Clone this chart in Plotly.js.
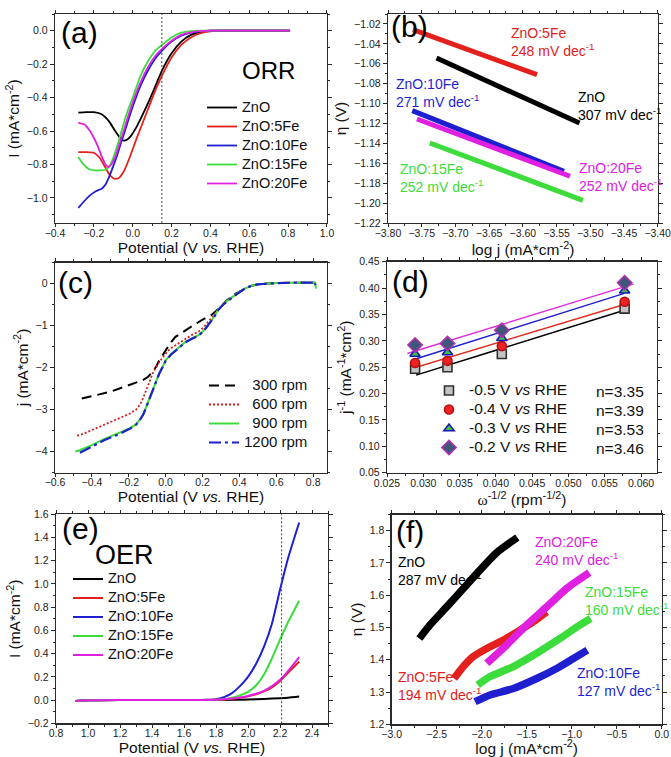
<!DOCTYPE html>
<html><head><meta charset="utf-8">
<script src="https://cdn.plot.ly/plotly-3.0.1.min.js"></script>
<style>html,body{margin:0;padding:0;background:#fff;}#chart{width:671px;height:757px;}</style>
</head><body><div id="chart"></div>
<script>
// ---------- shared ----------
const seriesNames = ['ZnO', 'ZnO:5Fe', 'ZnO:10Fe', 'ZnO:15Fe', 'ZnO:20Fe'];
const seriesColors = ['#000000', '#e3201b', '#1f1fcf', '#3cdc3c', '#e020e0'];

// ---------- (a) ORR LSV ----------
const orrV_ZnO  = [-0.28,-0.24,-0.20,-0.16,-0.12,-0.09,-0.06,-0.045,-0.03,-0.01,0.02,0.05,0.08,0.11,0.15,0.2,0.25,0.3,0.35,0.4,0.5,0.6,0.7,0.81];
const orrI_ZnO  = [-0.49,-0.487,-0.487,-0.50,-0.545,-0.60,-0.648,-0.657,-0.652,-0.63,-0.575,-0.505,-0.43,-0.35,-0.24,-0.135,-0.065,-0.025,-0.007,0,0,0,0,0];
const orrV_5Fe  = [-0.28,-0.24,-0.20,-0.17,-0.14,-0.12,-0.10,-0.085,-0.07,-0.05,-0.03,-0.01,0.02,0.05,0.08,0.11,0.15,0.2,0.25,0.3,0.35,0.4,0.45,0.5,0.6,0.7,0.81];
const orrI_5Fe  = [-0.726,-0.726,-0.73,-0.76,-0.82,-0.86,-0.882,-0.886,-0.88,-0.85,-0.80,-0.74,-0.645,-0.555,-0.465,-0.375,-0.27,-0.16,-0.085,-0.04,-0.015,-0.004,0,0,0,0,0];
const orrV_10Fe = [-0.28,-0.25,-0.22,-0.19,-0.16,-0.14,-0.12,-0.10,-0.08,-0.06,-0.04,-0.02,0.0,0.04,0.08,0.12,0.15,0.2,0.25,0.3,0.35,0.4,0.5,0.6,0.7,0.81];
const orrI_10Fe = [-1.06,-1.02,-0.985,-0.96,-0.945,-0.92,-0.87,-0.81,-0.745,-0.67,-0.60,-0.525,-0.455,-0.33,-0.235,-0.16,-0.12,-0.065,-0.03,-0.012,-0.004,0,0,0,0,0];
const orrV_15Fe = [-0.28,-0.26,-0.24,-0.22,-0.19,-0.16,-0.14,-0.12,-0.10,-0.08,-0.06,-0.04,-0.02,0.0,0.04,0.08,0.12,0.15,0.2,0.25,0.3,0.35,0.4,0.5,0.6,0.7,0.81];
const orrI_15Fe = [-0.755,-0.79,-0.815,-0.83,-0.835,-0.835,-0.83,-0.81,-0.76,-0.69,-0.61,-0.53,-0.46,-0.40,-0.27,-0.18,-0.115,-0.085,-0.04,-0.012,-0.003,0,0,0,0,0,0];
const orrV_20Fe = [-0.28,-0.25,-0.22,-0.20,-0.18,-0.16,-0.14,-0.125,-0.11,-0.09,-0.06,-0.04,-0.02,0.0,0.04,0.08,0.12,0.15,0.2,0.25,0.3,0.35,0.4,0.5,0.6,0.7,0.81];
const orrI_20Fe = [-0.551,-0.56,-0.60,-0.64,-0.69,-0.75,-0.80,-0.815,-0.80,-0.755,-0.65,-0.575,-0.50,-0.43,-0.31,-0.215,-0.145,-0.11,-0.06,-0.025,-0.01,-0.003,0,0,0,0,0];
const orrRefPotential = [0.15];

// ---------- (b) ORR Tafel ----------
const tafelOrrX_ZnO  = [-3.728, -3.516]; const tafelOrrY_ZnO  = [-1.0542, -1.1195];
const tafelOrrX_5Fe  = [-3.763, -3.579]; const tafelOrrY_5Fe  = [-1.0257, -1.0709];
const tafelOrrX_10Fe = [-3.764, -3.539]; const tafelOrrY_10Fe = [-1.1071, -1.1680];
const tafelOrrX_15Fe = [-3.738, -3.511]; const tafelOrrY_15Fe = [-1.1396, -1.1972];
const tafelOrrX_20Fe = [-3.757, -3.530]; const tafelOrrY_20Fe = [-1.1155, -1.1730];
const tafelOrrSlopes = ['307', '248', '271', '252', '252'];
const tafelOrrLabelX = [-3.521, -3.620, -3.791, -3.785, -3.520];
const tafelOrrLabelY = [-1.083, -1.019, -1.070, -1.156, -1.155];

// ---------- (c) RDE ----------
const rpmNames = ['300 rpm', '600 rpm', '900 rpm', '1200 rpm'];
const rdeV_300 = [-0.455,-0.435,-0.37,-0.302,-0.25,-0.195,-0.16,-0.124,-0.095,-0.07,-0.05,-0.035,-0.015,0.0,0.025,0.053,0.09,0.124,0.16,0.196,0.225,0.249,0.275,0.302,0.33,0.355,0.38,0.4,0.43,0.462,0.5,0.551,0.6,0.7,0.8,0.81];
const rdeJ_300 = [-2.74,-2.72,-2.65,-2.58,-2.50,-2.42,-2.37,-2.30,-2.22,-2.10,-1.97,-1.83,-1.70,-1.59,-1.42,-1.27,-1.16,-1.07,-0.97,-0.87,-0.80,-0.75,-0.65,-0.52,-0.41,-0.32,-0.24,-0.2,-0.12,-0.06,-0.02,0.0,0.01,0.02,0.02,0.02];
const rdeV_600 = [-0.48,-0.465,-0.40,-0.337,-0.26,-0.195,-0.16,-0.141,-0.124,-0.106,-0.088,-0.07,-0.05,-0.035,-0.015,0.0,0.025,0.053,0.08,0.107,0.14,0.178,0.205,0.231,0.26,0.284,0.31,0.338,0.37,0.4,0.43,0.462,0.5,0.551,0.6,0.7,0.8,0.81];
const rdeJ_600 = [-3.62,-3.61,-3.49,-3.37,-3.23,-3.10,-3.0,-2.90,-2.75,-2.54,-2.34,-2.14,-1.98,-1.87,-1.76,-1.67,-1.55,-1.47,-1.38,-1.31,-1.23,-1.15,-1.05,-0.91,-0.76,-0.62,-0.50,-0.40,-0.29,-0.2,-0.12,-0.06,-0.02,0.0,0.01,0.02,0.02,0.02];
const rdeV_900 = [-0.49,-0.465,-0.40,-0.337,-0.26,-0.195,-0.16,-0.141,-0.12,-0.106,-0.088,-0.07,-0.05,-0.035,-0.015,0.0,0.03,0.053,0.08,0.107,0.14,0.178,0.205,0.231,0.26,0.284,0.31,0.338,0.37,0.4,0.43,0.462,0.5,0.551,0.6,0.7,0.8,0.81,0.815];
const rdeJ_900 = [-4.0,-3.97,-3.85,-3.71,-3.57,-3.45,-3.35,-3.25,-3.10,-2.94,-2.74,-2.54,-2.32,-2.14,-1.97,-1.83,-1.68,-1.59,-1.48,-1.39,-1.31,-1.23,-1.13,-0.99,-0.81,-0.63,-0.50,-0.40,-0.29,-0.2,-0.12,-0.06,-0.02,0.0,0.01,0.02,0.02,0.02,-0.12];
const rdeV_1200 = [-0.465,-0.40,-0.337,-0.26,-0.195,-0.16,-0.141,-0.12,-0.106,-0.088,-0.07,-0.05,-0.035,-0.015,0.0,0.03,0.053,0.08,0.107,0.14,0.178,0.205,0.231,0.26,0.284,0.31,0.338,0.37,0.4,0.43,0.462,0.5,0.551,0.6,0.7,0.8,0.81,0.812];
const rdeJ_1200 = [-4.03,-3.88,-3.74,-3.60,-3.46,-3.36,-3.26,-3.11,-2.95,-2.75,-2.55,-2.33,-2.15,-1.98,-1.84,-1.69,-1.60,-1.49,-1.40,-1.32,-1.24,-1.14,-1.00,-0.82,-0.64,-0.51,-0.41,-0.30,-0.21,-0.12,-0.06,-0.02,0.0,0.01,0.02,0.02,0.04,-0.04];

// ---------- (d) Koutecky-Levich ----------
const klNames = ['-0.5 V <i>vs</i> RHE', '-0.4 V <i>vs</i> RHE', '-0.3 V <i>vs</i> RHE', '-0.2 V <i>vs</i> RHE'];
const klElectrons = ['n=3.35', 'n=3.39', 'n=3.53', 'n=3.46'];
const klOmega = [0.02887, 0.03333, 0.04082, 0.05774];
const klInvJ_05 = [0.247, 0.250, 0.275, 0.361];
const klInvJ_04 = [0.258, 0.262, 0.290, 0.374];
const klInvJ_03 = [0.275, 0.278, 0.305, 0.395];
const klInvJ_02 = [0.292, 0.295, 0.320, 0.410];
const klFitX_05 = [0.0290, 0.0577]; const klFitY_05 = [0.235, 0.358];
const klFitX_04 = [0.0288, 0.0577]; const klFitY_04 = [0.249, 0.369];
const klFitX_03 = [0.0286, 0.0577]; const klFitY_03 = [0.264, 0.390];
const klFitX_02 = [0.0278, 0.0590]; const klFitY_02 = [0.276, 0.408];

// ---------- (e) OER LSV ----------
const oerV_ZnO  = [0.92,1.0,1.2,1.4,1.6,1.8,1.9,2.0,2.1,2.2,2.25,2.32];
const oerI_ZnO  = [-0.008,-0.002,0.0,0.0,0.0,0.0,0.002,0.005,0.01,0.016,0.02,0.03];
const oerV_5Fe  = [0.92,1.0,1.2,1.4,1.6,1.8,1.85,1.9,1.95,2.0,2.05,2.1,2.15,2.2,2.25,2.32];
const oerI_5Fe  = [-0.008,-0.002,0.0,0.0,0.0,0.003,0.006,0.012,0.02,0.032,0.05,0.075,0.11,0.165,0.235,0.33];
const oerV_10Fe = [0.92,1.0,1.2,1.4,1.6,1.75,1.8,1.85,1.9,1.95,2.0,2.05,2.1,2.15,2.2,2.25,2.32];
const oerI_10Fe = [-0.008,-0.002,0.0,0.0,0.0,0.002,0.008,0.025,0.06,0.12,0.2,0.31,0.46,0.66,0.95,1.22,1.53];
const oerV_15Fe = [0.92,1.0,1.2,1.4,1.6,1.8,1.85,1.9,1.95,2.0,2.05,2.1,2.15,2.2,2.25,2.32];
const oerI_15Fe = [-0.008,-0.002,0.0,0.0,0.0,0.003,0.008,0.02,0.04,0.07,0.125,0.22,0.36,0.52,0.67,0.855];
const oerV_20Fe = [0.92,1.0,1.2,1.4,1.6,1.8,1.85,1.9,1.95,2.0,2.05,2.1,2.15,2.2,2.25,2.32];
const oerI_20Fe = [-0.008,-0.002,0.0,0.0,0.0,0.003,0.007,0.013,0.022,0.035,0.055,0.08,0.12,0.175,0.25,0.37];
const oerRefPotential = [2.21];

// ---------- (f) OER Tafel ----------
const tafelOerX_ZnO  = [-2.693,-2.574,-2.389,-2.204,-2.019,-1.833,-1.604];
const tafelOerY_ZnO  = [1.466,1.508,1.564,1.621,1.678,1.732,1.779];
const tafelOerX_5Fe  = [-2.307,-2.204,-2.093,-1.944,-1.759,-1.574,-1.426,-1.278];
const tafelOerY_5Fe  = [1.342,1.379,1.410,1.435,1.461,1.492,1.518,1.549];
const tafelOerX_10Fe = [-2.074,-1.907,-1.648,-1.389,-1.167,-0.981,-0.826];
const tafelOerY_10Fe = [1.270,1.291,1.311,1.342,1.373,1.404,1.430];
const tafelOerX_15Fe = [-2.044,-1.907,-1.648,-1.389,-1.130,-0.907,-0.789];
const tafelOerY_15Fe = [1.322,1.348,1.379,1.420,1.466,1.508,1.528];
const tafelOerX_20Fe = [-1.944,-1.722,-1.500,-1.278,-1.056,-0.804];
const tafelOerY_20Fe = [1.389,1.446,1.508,1.564,1.621,1.670];
const tafelOerSlopes = ['287', '194', '127', '160', '240'];
const tafelOerLabelX = [-2.952, -2.952, -0.963, -0.870, -1.433];
const tafelOerLabelY = [1.735, 1.378, 1.390, 1.640, 1.797];

// ---------- build ----------
const FONT = 'Arial, "Liberation Sans", sans-serif';
const LEG_TXT = 14.5;            // visible legend text size
const big14 = (s, sz) => '<span style="font-size:' + (sz || LEG_TXT) + 'px">' + s + '</span>';
const traces = [];
const orrX = [orrV_ZnO, orrV_5Fe, orrV_10Fe, orrV_15Fe, orrV_20Fe];
const orrY = [orrI_ZnO, orrI_5Fe, orrI_10Fe, orrI_15Fe, orrI_20Fe];
orrX.forEach((xs, i) => traces.push({x: xs, y: orrY[i], xaxis: 'x', yaxis: 'y', type: 'scatter', mode: 'lines',
  name: big14(seriesNames[i]), legend: 'legend', line: {color: seriesColors[i], width: 1.8, shape: 'spline', smoothing: 0.5}}));

const tbX = [tafelOrrX_ZnO, tafelOrrX_5Fe, tafelOrrX_10Fe, tafelOrrX_15Fe, tafelOrrX_20Fe];
const tbY = [tafelOrrY_ZnO, tafelOrrY_5Fe, tafelOrrY_10Fe, tafelOrrY_15Fe, tafelOrrY_20Fe];
tbX.forEach((xs, i) => traces.push({x: xs, y: tbY[i], xaxis: 'x2', yaxis: 'y2', type: 'scatter', mode: 'lines',
  showlegend: false, line: {color: seriesColors[i], width: 5}}));

const rdeX = [rdeV_300, rdeV_600, rdeV_900, rdeV_1200];
const rdeY = [rdeJ_300, rdeJ_600, rdeJ_900, rdeJ_1200];
const rdeColors = ['#000000', '#d42020', '#3cdc3c', '#1f1fcf'];
const rdeDash = ['10px,6px', '2px,2px', 'solid', '12px,4px,3px,4px'];
const rdeWidth = [2, 1.8, 2, 2.2];
const rdeLegendNames = ['\u2007' + rpmNames[0], '\u2007' + rpmNames[1], '\u2007' + rpmNames[2], rpmNames[3]];
rdeX.forEach((xs, i) => traces.push({x: xs, y: rdeY[i], xaxis: 'x3', yaxis: 'y3', type: 'scatter', mode: 'lines',
  name: big14(rdeLegendNames[i], 15), legend: 'legend2', line: {color: rdeColors[i], width: rdeWidth[i], dash: rdeDash[i]}}));

const klY = [klInvJ_05, klInvJ_04, klInvJ_03, klInvJ_02];
const klFX = [klFitX_05, klFitX_04, klFitX_03, klFitX_02];
const klFY = [klFitY_05, klFitY_04, klFitY_03, klFitY_02];
const klLineColors = ['#000000', '#e03020', '#2020d0', '#e030e0'];
const klSymbols = ['square', 'circle', 'triangle-up', 'diamond'];
const klFill = ['#c4c4c4', '#ee2222', '#3fc43f', '#3d5878'];
const klEdge = ['#303030', '#b81010', '#1a1ab8', '#b030b0'];
klFX.forEach((xs, i) => traces.push({x: xs, y: klFY[i], xaxis: 'x4', yaxis: 'y4', type: 'scatter', mode: 'lines',
  showlegend: false, line: {color: klLineColors[i], width: 1.5}}));
klY.forEach((ys, i) => traces.push({x: klOmega, y: ys, xaxis: 'x4', yaxis: 'y4', type: 'scatter', mode: 'markers',
  name: big14(klNames[i], 15.5), legend: 'legend3',
  marker: {symbol: klSymbols[i], size: i === 3 ? 11 : 9, color: klFill[i], line: {color: klEdge[i], width: 1.6}}}));

const oerX = [oerV_ZnO, oerV_5Fe, oerV_10Fe, oerV_15Fe, oerV_20Fe];
const oerY = [oerI_ZnO, oerI_5Fe, oerI_10Fe, oerI_15Fe, oerI_20Fe];
oerX.forEach((xs, i) => traces.push({x: xs, y: oerY[i], xaxis: 'x5', yaxis: 'y5', type: 'scatter', mode: 'lines',
  name: big14(seriesNames[i]), legend: 'legend4', line: {color: seriesColors[i], width: 2, shape: 'spline', smoothing: 0.6}}));

const tfX = [tafelOerX_ZnO, tafelOerX_5Fe, tafelOerX_10Fe, tafelOerX_15Fe, tafelOerX_20Fe];
const tfY = [tafelOerY_ZnO, tafelOerY_5Fe, tafelOerY_10Fe, tafelOerY_15Fe, tafelOerY_20Fe];
tfX.forEach((xs, i) => traces.push({x: xs, y: tfY[i], xaxis: 'x6', yaxis: 'y6', type: 'scatter', mode: 'lines',
  showlegend: false, line: {color: seriesColors[i], width: 7.5, shape: 'spline', smoothing: 0.6}}));

function ax(domain, range, dtick, fmt, minor, anchor, title, tick0, isX, standoff) {
  const a = {
    domain: domain, range: range, anchor: anchor, dtick: dtick, tick0: tick0, tickformat: fmt,
    showline: true, mirror: 'ticks', linecolor: '#2a2a2a', linewidth: 1.3,
    ticks: 'outside', ticklen: isX ? 3 : 4, tickwidth: 1, tickcolor: '#2a2a2a',
    minor: {ticks: 'outside', ticklen: 2, dtick: minor, tickcolor: '#2a2a2a', tickwidth: 1},
    showgrid: false, zeroline: false, tickfont: {size: 10.5, color: '#222', family: FONT},
    ticklabeloverflow: 'allow',
    title: {text: title, font: {size: 15.5, color: '#111', family: FONT}, standoff: standoff == null ? 3 : standoff},
    fixedrange: true
  };
  if (isX) a.ticklabelstandoff = -3;
  return a;
}
const W = 671, H = 757;
const dx = (l, r) => [l / W, r / W];
const dy = (t, b) => [1 - b / H, 1 - t / H];
const potTitle = 'Potential (V <i>vs.</i> RHE)';
const curTitle = 'I (mA*cm<sup>-2</sup>)';
const logTitle = 'log j (mA*cm<sup>-2</sup>)';
const legBase = (x, yTop) => ({x: x / W, y: 1 - yTop / H, xanchor: 'left', yanchor: 'top', bgcolor: 'rgba(0,0,0,0)',
  font: {size: 11, family: FONT, color: '#111'}, tracegroupgap: 0, itemwidth: 30});

const layout = {
  width: W, height: H, margin: {l: 0, r: 0, t: 0, b: 0},
  paper_bgcolor: '#ffffff', plot_bgcolor: '#ffffff',
  font: {family: FONT, color: '#111'},
  xaxis:  ax(dx(55, 327), [-0.4, 1.0001], 0.2, '.1f', 0.1, 'y', potTitle, 0, true),
  yaxis:  ax(dy(14, 223), [-1.15, 0.1], 0.2, '.1f', 0.1, 'x', curTitle, 0, false),
  xaxis2: ax(dx(388, 658), [-3.8, -3.3995], 0.05, '.2f', 0.025, 'y2', logTitle, -3.8, true, 5),
  yaxis2: ax(dy(14, 223), [-1.22, -1.01], 0.02, '.2f', 0.01, 'x2', 'η (V)', -1.22, false),
  xaxis3: ax(dx(55, 327), [-0.6, 0.875], 0.2, '.1f', 0.1, 'y3', potTitle, 0, true),
  yaxis3: ax(dy(262.5, 472.5), [-4.5, 0.5], 1, 'd', 0.5, 'x3', 'j (mA*cm<sup>-2</sup>)', 0, false),
  xaxis4: ax(dx(387, 657), [0.025, 0.0622], 0.005, '.3f', 0.0025, 'y4', '<span style="font-family:Liberation Serif, Times New Roman, serif">ω</span><sup>-1/2</sup> (rpm<sup>-1/2</sup>)', 0.025, true),
  yaxis4: ax(dy(261.7, 472.7), [0.05, 0.45], 0.05, '.2f', 0.025, 'x4', 'j<sup>-1</sup> (mA<sup>-1</sup>*cm<sup>2</sup>)', 0.05, false),
  xaxis5: ax(dx(56, 328), [0.8, 2.5], 0.2, '.1f', 0.1, 'y5', potTitle, 0, true),
  yaxis5: ax(dy(514.3, 723.3), [-0.2, 1.6], 0.2, '.1f', 0.1, 'x5', curTitle, 0, false),
  xaxis6: ax(dx(391.7, 661.7), [-3.0, 0.0001], 0.5, '.1f', 0.25, 'y6', logTitle, 0, true, 5),
  yaxis6: ax(dy(514.6, 724.3), [1.2, 1.85], 0.1, '.1f', 0.05, 'x6', 'η (V)', 0, false),
  legend:  legBase(202, 93),
  legend2: legBase(204, 371),
  legend3: legBase(429, 376),
  legend4: legBase(68, 564.5),
  shapes: [
    {type: 'line', xref: 'x', yref: 'y domain', x0: orrRefPotential[0], x1: orrRefPotential[0], y0: 0, y1: 1, line: {color: '#444', width: 1, dash: '2px,2px'}},
    {type: 'line', xref: 'x5', yref: 'y5 domain', x0: oerRefPotential[0], x1: oerRefPotential[0], y0: 0, y1: 1, line: {color: '#444', width: 1, dash: '2px,2px'}}
  ],
  annotations: []
};

const big = (t, xr, yr, x, y) => ({text: t, xref: xr, yref: yr, x: x, y: y, xanchor: 'left', yanchor: 'top', showarrow: false, font: {size: 30, family: FONT, color: '#000'}});
layout.annotations.push(big('(a)', 'x domain', 'y domain', 0.015, 1.0));
layout.annotations.push(big('(b)', 'x2 domain', 'y2 domain', 0.005, 1.03));
layout.annotations.push(big('(c)', 'x3 domain', 'y3 domain', 0.005, 0.995));
layout.annotations.push(big('(d)', 'x4 domain', 'y4 domain', 0.012, 0.995));
layout.annotations.push(big('(e)', 'x5 domain', 'y5 domain', 0.015, 1.02));
layout.annotations.push(big('(f)', 'x6 domain', 'y6 domain', 0.01, 1.01));
layout.annotations.push({text: 'ORR', xref: 'x domain', yref: 'y domain', x: 0.68, y: 0.732, xanchor: 'left', yanchor: 'middle', showarrow: false, font: {size: 24, family: FONT, color: '#000'}});
layout.annotations.push({text: 'OER', xref: 'x5 domain', yref: 'y5 domain', x: 0.135, y: 0.805, xanchor: 'left', yanchor: 'middle', showarrow: false, font: {size: 27, family: FONT, color: '#000'}});

seriesNames.forEach((n, i) => {
  layout.annotations.push({text: n + '<br>' + tafelOrrSlopes[i] + ' mV dec<sup>-1</sup>', xref: 'x2', yref: 'y2',
    x: tafelOrrLabelX[i], y: tafelOrrLabelY[i], xanchor: 'left', yanchor: 'top', align: 'left', showarrow: false,
    font: {size: 14, family: FONT, color: seriesColors[i]}});
  layout.annotations.push({text: n + '<br>' + tafelOerSlopes[i] + ' mV dec<sup>-1</sup>', xref: 'x6', yref: 'y6',
    x: tafelOerLabelX[i], y: tafelOerLabelY[i], xanchor: 'left', yanchor: 'top', align: 'left', showarrow: false,
    font: {size: 14, family: FONT, color: seriesColors[i]}});
});
klElectrons.forEach((t, i) => {
  layout.annotations.push({text: t, xref: 'paper', yref: 'paper', x: 646 / W, y: 1 - (391.7 + 19 * i) / H,
    xanchor: 'right', yanchor: 'middle', showarrow: false, font: {size: 15.5, family: FONT, color: '#111'}});
});

Plotly.newPlot('chart', traces, layout, {staticPlot: true, displayModeBar: false});
</script></body></html>
